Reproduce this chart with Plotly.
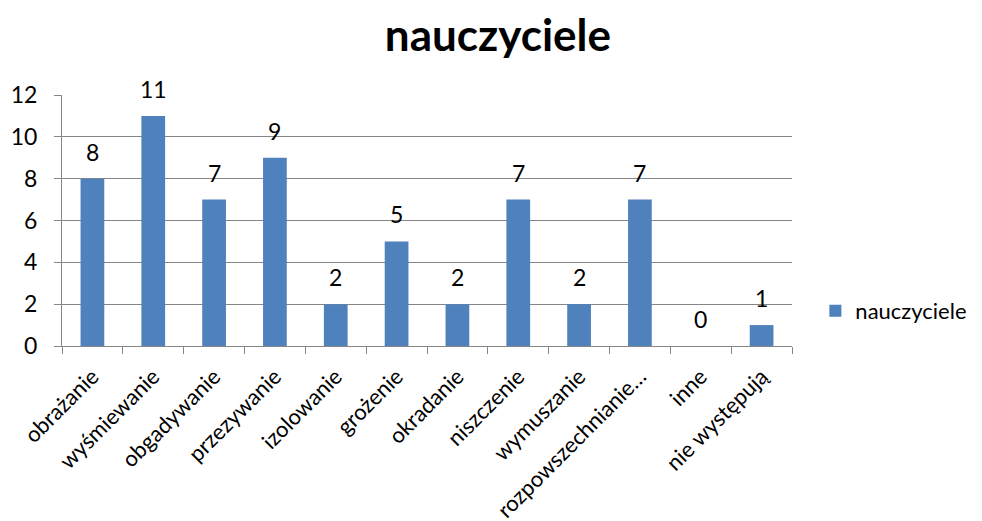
import plotly.graph_objects as go

categories = [
    "obrażanie",
    "wyśmiewanie",
    "obgadywanie",
    "przezywanie",
    "izolowanie",
    "grożenie",
    "okradanie",
    "niszczenie",
    "wymuszanie",
    "rozpowszechnianie…",
    "inne",
    "nie występują",
]
values = [8, 11, 7, 9, 2, 5, 2, 7, 2, 7, 0, 1]
y_ticks = [0, 2, 4, 6, 8, 10, 12]

_BLUE = "#4f81bd"
_GRID = "#868686"
_FONT = "Lato, Open Sans, sans-serif"

fig = go.Figure(
    go.Bar(
        x=categories,
        y=values,
        name="nauczyciele",
        marker=dict(color=_BLUE, line=dict(width=0)),
        showlegend=True,
    )
)

# Excel-style value labels, floating a bit above each bar
for cat, val in zip(categories, values):
    fig.add_annotation(
        x=cat,
        y=val,
        text=str(val),
        showarrow=False,
        yanchor="bottom",
        yshift=11,
        font=dict(size=23, color="#000000", family=_FONT),
    )

# the page body keeps its default 8px margin, so the figure is 8px smaller
fig.update_layout(
    width=974,
    height=513,
    template="none",
    paper_bgcolor="white",
    plot_bgcolor="white",
    margin=dict(l=54, r=190, t=87, b=175, autoexpand=False),
    font=dict(family=_FONT, color="#000000"),
    title=dict(
        text="<b>nauczyciele</b>",
        x=0.503,
        xanchor="center",
        y=0.947,
        yanchor="middle",
        font=dict(size=44, family=_FONT),
    ),
    bargap=0.61,
    legend=dict(
        x=1.032,
        y=0.14,
        xanchor="left",
        yanchor="middle",
        font=dict(size=22),
        itemwidth=30,
    ),
    xaxis=dict(
        showline=True,
        linecolor=_GRID,
        linewidth=1,
        ticks="outside",
        tickson="boundaries",
        ticklen=7,
        tickcolor=_GRID,
        tickangle=-45,
        tickfont=dict(size=22),
        ticklabelstandoff=8,
        showgrid=False,
        automargin=False,
    ),
    yaxis=dict(
        range=[0, 12],
        tickvals=y_ticks,
        showline=True,
        linecolor=_GRID,
        linewidth=1,
        ticks="outside",
        ticklen=7,
        tickcolor=_GRID,
        tickfont=dict(size=23),
        ticklabelstandoff=12,
        showgrid=True,
        gridcolor=_GRID,
        gridwidth=1,
        zeroline=False,
        automargin=False,
    ),
)

fig.write_html("out.html")
